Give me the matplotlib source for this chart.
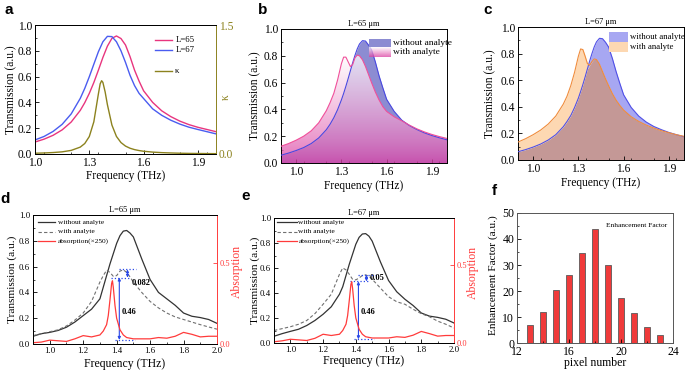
import numpy as np
import matplotlib
matplotlib.use('Agg')
import matplotlib.pyplot as plt
from matplotlib.ticker import MultipleLocator, FormatStrFormatter
from matplotlib.patches import Polygon, Rectangle

# ---------------- data ----------------
# panel a
a_freq = [1.0, 1.05, 1.1, 1.15, 1.2, 1.25, 1.275, 1.3, 1.325, 1.35, 1.375, 1.4, 1.425, 1.45,
          1.475, 1.5, 1.525, 1.55, 1.575, 1.6, 1.65, 1.7, 1.75, 1.8, 1.85, 1.9, 1.95, 2.0]
a_L65 = [0.093, 0.115, 0.145, 0.187, 0.248, 0.338, 0.398, 0.470, 0.554, 0.649, 0.748, 0.836, 0.897, 0.915,
         0.895, 0.845, 0.755, 0.65, 0.565, 0.49, 0.40, 0.335, 0.29, 0.255, 0.228, 0.207, 0.19, 0.173]
a_L67 = [0.109, 0.136, 0.175, 0.230, 0.311, 0.431, 0.509, 0.599, 0.696, 0.792, 0.870, 0.912, 0.91, 0.87,
         0.80, 0.71, 0.61, 0.53, 0.47, 0.43, 0.35, 0.30, 0.262, 0.232, 0.208, 0.19, 0.173, 0.156]
k_freq = [1.0, 1.05, 1.1, 1.15, 1.2, 1.25, 1.275, 1.3, 1.325, 1.35, 1.36, 1.368, 1.375, 1.3875, 1.4,
          1.425, 1.45, 1.475, 1.5, 1.525, 1.55, 1.575, 1.6, 1.65, 1.7, 1.75, 1.8, 1.85, 1.9, 1.95, 2.0]
kappa = [0.009, 0.012, 0.017, 0.025, 0.042, 0.080, 0.122, 0.203, 0.374, 0.696, 0.816, 0.852, 0.833, 0.722, 0.574,
         0.336, 0.204, 0.133, 0.092, 0.067, 0.051, 0.040, 0.032, 0.022, 0.016, 0.012, 0.009, 0.007, 0.006, 0.005, 0.004]

# panels b, c
bc_freq = [0.9, 0.95, 1.0, 1.05, 1.1, 1.15, 1.2, 1.225, 1.25, 1.275, 1.3, 1.315, 1.33, 1.345, 1.36, 1.375,
           1.39, 1.405, 1.42, 1.44, 1.46, 1.48, 1.5, 1.525, 1.55, 1.575, 1.6, 1.65, 1.7, 1.75, 1.8, 1.85,
           1.9, 1.95, 2.0]
b_without = [0.058, 0.074, 0.093, 0.115, 0.145, 0.187, 0.248, 0.289, 0.338, 0.398, 0.470, 0.519, 0.573, 0.630,
             0.689, 0.748, 0.803, 0.851, 0.888, 0.913, 0.91, 0.88, 0.845, 0.755, 0.65, 0.56, 0.475, 0.385,
             0.32, 0.28, 0.25, 0.225, 0.205, 0.188, 0.173]
b_with = [0.125, 0.145, 0.17, 0.20, 0.24, 0.30, 0.39, 0.45, 0.52, 0.62, 0.74, 0.79, 0.79, 0.755, 0.72, 0.735,
          0.785, 0.805, 0.80, 0.77, 0.72, 0.66, 0.60, 0.53, 0.47, 0.42, 0.385, 0.345, 0.315, 0.283, 0.255,
          0.232, 0.213, 0.197, 0.183]
c_without = [0.062, 0.078, 0.097, 0.12, 0.15, 0.19, 0.25, 0.29, 0.335, 0.395, 0.465, 0.515, 0.568, 0.625,
             0.685, 0.745, 0.80, 0.85, 0.888, 0.915, 0.912, 0.885, 0.85, 0.765, 0.665, 0.575, 0.49, 0.395,
             0.33, 0.285, 0.252, 0.228, 0.207, 0.19, 0.175]
c_with = [0.135, 0.16, 0.19, 0.225, 0.27, 0.33, 0.42, 0.48, 0.56, 0.66, 0.78, 0.835, 0.83, 0.78, 0.725, 0.712,
          0.74, 0.76, 0.755, 0.72, 0.665, 0.61, 0.56, 0.50, 0.45, 0.41, 0.375, 0.325, 0.29, 0.262, 0.24,
          0.22, 0.205, 0.19, 0.178]

# panels d, e
de_freq = [0.9, 0.95, 1.0, 1.05, 1.1, 1.15, 1.2, 1.25, 1.3, 1.32, 1.34, 1.36, 1.38, 1.40, 1.42, 1.44, 1.46,
           1.48, 1.5, 1.55, 1.6, 1.65, 1.7, 1.75, 1.8, 1.85, 1.9, 1.95, 2.0]
d_without = [0.06, 0.08, 0.09, 0.105, 0.13, 0.17, 0.22, 0.27, 0.35, 0.44, 0.53, 0.62, 0.70, 0.78, 0.84, 0.875,
             0.88, 0.86, 0.83, 0.66, 0.50, 0.40, 0.35, 0.30, 0.24, 0.215, 0.205, 0.19, 0.16]
d_with = [0.065, 0.08, 0.095, 0.11, 0.14, 0.185, 0.24, 0.33, 0.48, 0.53, 0.572, 0.555, 0.525, 0.53, 0.565,
          0.575, 0.555, 0.52, 0.48, 0.40, 0.33, 0.28, 0.24, 0.21, 0.19, 0.17, 0.15, 0.132, 0.115]
e_without = [0.054, 0.075, 0.093, 0.11, 0.14, 0.18, 0.23, 0.29, 0.39, 0.45, 0.54, 0.63, 0.71, 0.79, 0.845,
             0.872, 0.875, 0.855, 0.815, 0.65, 0.50, 0.41, 0.35, 0.30, 0.24, 0.215, 0.205, 0.19, 0.16]
e_with = [0.10, 0.115, 0.13, 0.15, 0.18, 0.235, 0.31, 0.39, 0.55, 0.60, 0.585, 0.55, 0.51, 0.505, 0.52, 0.54,
          0.545, 0.535, 0.51, 0.44, 0.37, 0.33, 0.31, 0.27, 0.235, 0.21, 0.175, 0.15, 0.12]
abs_freq = [0.9, 0.95, 1.0, 1.05, 1.1, 1.15, 1.2, 1.25, 1.3, 1.32, 1.34, 1.35, 1.36, 1.37, 1.375, 1.38, 1.39,
            1.40, 1.42, 1.44, 1.46, 1.5, 1.55, 1.6, 1.65, 1.7, 1.75, 1.8, 1.85, 1.9, 1.95, 2.0]
d_abs = [0.008, 0.012, 0.024, 0.02, 0.016, 0.032, 0.052, 0.044, 0.056, 0.08, 0.12, 0.176, 0.272, 0.376, 0.392,
         0.352, 0.24, 0.16, 0.088, 0.056, 0.04, 0.032, 0.032, 0.032, 0.04, 0.036, 0.048, 0.072, 0.06, 0.044,
         0.048, 0.048]
e_abs = [0.008, 0.014, 0.024, 0.02, 0.016, 0.03, 0.056, 0.048, 0.056, 0.08, 0.12, 0.176, 0.272, 0.376, 0.392,
         0.352, 0.24, 0.16, 0.088, 0.056, 0.04, 0.032, 0.032, 0.032, 0.04, 0.036, 0.05, 0.074, 0.06, 0.044,
         0.048, 0.048]
# annotation levels (transmission units): top, middle, bottom
d_levels = [0.578, 0.515, 0.032]
e_levels = [0.546, 0.493, 0.030]
d_labels = ['0.082', '0.46']
e_labels = ['0.05', '0.46']

# panel f
pixels = [13, 14, 15, 16, 17, 18, 19, 20, 21, 22, 23]
enh = [7, 12, 20.5, 26, 34.5, 44, 30, 17.5, 11.5, 6, 3]

# ---------------- style ----------------
plt.rcParams['font.family'] = ['Liberation Serif', 'DejaVu Serif']
plt.rcParams['xtick.direction'] = 'in'
plt.rcParams['ytick.direction'] = 'in'
plt.rcParams['xtick.major.size'] = 3
plt.rcParams['ytick.major.size'] = 3
plt.rcParams['xtick.minor.size'] = 1.6
plt.rcParams['ytick.minor.size'] = 1.6
plt.rcParams['xtick.major.width'] = 0.6
plt.rcParams['ytick.major.width'] = 0.6
plt.rcParams['xtick.minor.width'] = 0.5
plt.rcParams['ytick.minor.width'] = 0.5
plt.rcParams['axes.linewidth'] = 0.7
plt.rcParams['xtick.major.pad'] = 2
plt.rcParams['ytick.major.pad'] = 2

W, H = 685, 370
fig = plt.figure(figsize=(W / 100, H / 100), dpi=100)


def add_ax(x0, y0, x1, y1):
    return fig.add_axes([x0 / W, 1 - y1 / H, (x1 - x0) / W, (y1 - y0) / H])


def letter(x, y, s):
    fig.text(x / W, 1 - y / H, s, fontsize=11, fontweight='bold', family='Liberation Sans',
             ha='center', va='center')


def style_axes(ax, fs, xmaj, xmin, ymaj=0.2, ymin=0.1):
    ax.xaxis.set_major_locator(MultipleLocator(xmaj))
    ax.xaxis.set_minor_locator(MultipleLocator(xmin))
    ax.yaxis.set_major_locator(MultipleLocator(ymaj))
    ax.yaxis.set_minor_locator(MultipleLocator(ymin))
    ax.xaxis.set_major_formatter(FormatStrFormatter('%.1f'))
    ax.yaxis.set_major_formatter(FormatStrFormatter('%.1f'))
    ax.tick_params(labelsize=fs)


OLIVE = '#8c821e'
RED = '#ff3b3b'
ABLUE = '#2a48e8'

# ---------------- panel a ----------------
ax = add_ax(35, 25, 216, 154)
ax.plot(a_freq, a_L65, color='#e8357e', lw=1.0)
ax.plot(a_freq, a_L67, color='#4a5cf0', lw=1.0)
ax.set_xlim(1.0, 2.0)
ax.set_ylim(0, 1.0)
style_axes(ax, 8.3, 0.3, 0.15)
ax.set_xticks([1.0, 1.3, 1.6, 1.9])
ax.set_ylabel('Transmission (a.u.)', fontsize=8.3)
ax.set_xlabel('Frequency (THz)', fontsize=8.3)
ax.yaxis.set_label_coords(-0.097, 0.5)
ax.xaxis.set_label_coords(0.5, -0.125)
ax.spines['right'].set_visible(False)
ax2 = ax.twinx()
ax2.plot(k_freq, kappa, color=OLIVE, lw=1.0)
ax2.set_ylim(0, 1.5)
ax2.set_yticks([0, 1.5])
ax2.yaxis.set_major_formatter(FormatStrFormatter('%.1f'))
ax2.tick_params(labelsize=8.3, colors=OLIVE)
ax2.spines['right'].set_color(OLIVE)
ax2.set_ylabel('κ', fontsize=8.3, color=OLIVE)
ax2.yaxis.set_label_coords(1.02, 0.44)
for yy, col, lab in [(0.884, '#e8357e', 'L=65'), (0.81, '#4a5cf0', 'L=67'), (0.643, OLIVE, 'κ')]:
    ax.plot([0.663, 0.757], [yy, yy], color=col, lw=1.0, transform=ax.transAxes)
    ax.text(0.775, yy, lab, fontsize=6.3, va='center', ha='left', transform=ax.transAxes)
letter(9, 10, 'a')

# ---------------- panel b ----------------
ax = add_ax(281, 29, 447, 163)
BFILL = '#8c8cd2'
ax.fill_between(bc_freq, 0, b_without, color=BFILL, lw=0, zorder=1)
ny = 256
yy = np.linspace(0, 1, ny)
t = np.clip(yy / 0.8, 0, 1) ** 0.8
bottom = np.array([0.86, 0.24, 0.63])
grad = np.zeros((ny, 2, 4))
grad[..., :3] = (bottom + (1 - bottom) * t[:, None])[:, None, :]
grad[..., 3] = 0.75
im = ax.imshow(grad, extent=(0.9, 2.0, 0, 1), origin='lower', aspect='auto', zorder=2,
               interpolation='bilinear')
xs = np.array(bc_freq)
poly = Polygon(np.column_stack([np.r_[xs, xs[::-1]], np.r_[np.array(b_with), np.zeros(len(xs))]]),
               closed=True, transform=ax.transData, fc='none', ec='none')
ax.add_patch(poly)
im.set_clip_path(poly)
ax.plot(bc_freq, b_without, color='#4848e0', lw=0.8, zorder=3)
ax.plot(bc_freq, b_with, color='#f0509a', lw=0.8, zorder=3)
# legend
ax.add_patch(Rectangle((0.53, 0.868), 0.13, 0.055, transform=ax.transAxes, fc=BFILL, ec='none', zorder=5))
lg = np.zeros((64, 2, 4))
tl = np.linspace(0, 1, 64)
lg[..., :3] = (bottom + (1 - bottom) * tl[:, None])[:, None, :]
lg[..., 3] = 0.75
ax.imshow(lg, extent=(0.53, 0.66, 0.79, 0.864), transform=ax.transAxes, origin='lower', aspect='auto',
          zorder=5, interpolation='bilinear')
ax.text(0.675, 0.895, 'without analyte', fontsize=6.8, va='center', transform=ax.transAxes)
ax.text(0.675, 0.827, 'with analyte', fontsize=6.8, va='center', transform=ax.transAxes)
ax.set_xlim(0.9, 2.0)
ax.set_ylim(0, 1.0)
style_axes(ax, 8.3, 0.3, 0.15)
ax.set_xticks([1.0, 1.3, 1.6, 1.9])
ax.set_title('L=65 μm', fontsize=6, pad=2)
ax.set_ylabel('Transmission (a.u.)', fontsize=8.3)
ax.set_xlabel('Frequency (THz)', fontsize=8.3)
ax.yaxis.set_label_coords(-0.117, 0.5)
ax.xaxis.set_label_coords(0.5, -0.127)
letter(263, 10, 'b')

# ---------------- panel c ----------------
ax = add_ax(518, 27, 684, 160)
C_BLUE = '#a7a7f2'
C_PEACH = '#fdd8b2'
C_OVER = '#c49896'
lower = np.minimum(np.array(c_with), np.array(c_without))
ax.fill_between(bc_freq, 0, lower, color=C_OVER, lw=0, zorder=1)
ax.fill_between(bc_freq, lower, c_with, color=C_PEACH, lw=0, zorder=1)
ax.fill_between(bc_freq, lower, c_without, color=C_BLUE, lw=0, zorder=1)
ax.plot(bc_freq, c_without, color='#5050e6', lw=0.8, zorder=3)
ax.plot(bc_freq, c_with, color='#f08c3c', lw=0.8, zorder=3)
ax.add_patch(Rectangle((0.548, 0.89), 0.113, 0.075, transform=ax.transAxes,
                       fc=C_BLUE, ec='none', zorder=5))
ax.add_patch(Rectangle((0.548, 0.815), 0.113, 0.075, transform=ax.transAxes,
                       fc=C_PEACH, ec='none', zorder=5))
ax.text(0.675, 0.927, 'without analyte', fontsize=6.3, va='center', transform=ax.transAxes)
ax.text(0.675, 0.852, 'with analyte', fontsize=6.3, va='center', transform=ax.transAxes)
ax.set_xlim(0.9, 2.0)
ax.set_ylim(0, 1.0)
style_axes(ax, 8.3, 0.3, 0.15)
ax.set_xticks([1.0, 1.3, 1.6, 1.9])
ax.set_title('L=67 μm', fontsize=6, pad=2)
ax.set_ylabel('Transmission (a.u.)', fontsize=8.3)
ax.set_xlabel('Frequency (THz)', fontsize=8.3)
ax.yaxis.set_label_coords(-0.129, 0.5)
ax.xaxis.set_label_coords(0.5, -0.128)
letter(488, 10, 'c')


# ---------------- panels d, e ----------------
def panel_de(box, without, with_, absorb, levels, labels, lab_y, title, ylab_x, xlab_y, rlab, leg):
    ax = add_ax(*box)
    ax.plot(de_freq, without, color='#333333', lw=0.9, zorder=3)
    ax.plot(de_freq, with_, color='#707070', lw=0.8, ls=(0, (3, 2)), zorder=3)
    ax.set_xlim(0.9, 2.0)
    ax.set_ylim(0, 1.0)
    style_axes(ax, 6.3, 0.2, 0.1)
    ax.set_title(title, fontsize=6, pad=2)
    ax.set_ylabel('Transmission (a.u.)', fontsize=8.2)
    ax.set_xlabel('Frequency (THz)', fontsize=8.5)
    ax.yaxis.set_label_coords(ylab_x, 0.5)
    ax.xaxis.set_label_coords(0.5, xlab_y)
    ax.spines['right'].set_visible(False)
    ax2 = ax.twinx()
    ax2.plot(abs_freq, absorb, color=RED, lw=0.9)
    ax2.set_ylim(0, 0.8)
    ax2.set_yticks([0, 0.5])
    ax2.yaxis.set_major_formatter(FormatStrFormatter('%.1f'))
    ax2.tick_params(labelsize=6, colors=RED)
    ax2.spines['right'].set_color(RED)
    ax2.set_ylabel('Absorption', fontsize=8.5, color=RED)
    ax2.yaxis.set_label_coords(rlab[0], rlab[1])
    # annotations
    top, mid, bot = levels
    ax.plot([1.415, 1.515], [top, top], ls=':', color=ABLUE, lw=0.9, zorder=4)
    ax.plot([1.365, 1.475], [mid, mid], ls=':', color=ABLUE, lw=0.9, zorder=4)
    ax.plot([1.39, 1.51], [bot, bot], ls=':', color=ABLUE, lw=0.9, zorder=4)
    ax.annotate('', xy=(1.465, top), xytext=(1.465, mid),
                arrowprops=dict(arrowstyle='<|-|>', color=ABLUE, lw=0.7, mutation_scale=4,
                                shrinkA=0, shrinkB=0))
    ax.annotate('', xy=(1.416, mid), xytext=(1.416, bot),
                arrowprops=dict(arrowstyle='<|-|>', color=ABLUE, lw=0.8, mutation_scale=4,
                                shrinkA=0, shrinkB=0))
    ax.text(1.487, lab_y, labels[0], fontsize=6, fontweight='bold', va='center')
    ax.text(1.43, 0.245, labels[1], fontsize=6, fontweight='bold', va='center')
    # legend
    lx0, lx1, tx, ys = leg
    ax.plot([lx0, lx1], [ys[0], ys[0]], color='#333333', lw=0.9, transform=ax.transAxes)
    ax.plot([lx0, lx1], [ys[1], ys[1]], color='#707070', lw=0.8, ls=(0, (3, 2)), transform=ax.transAxes)
    ax.plot([lx0, lx1], [ys[2], ys[2]], color=RED, lw=0.9, transform=ax.transAxes)
    for yv, s in zip(ys, ['without analyte', 'with analyte', 'absorption(×250)']):
        ax.text(tx, yv, s, fontsize=5.3, va='center', transform=ax.transAxes)
    return ax


panel_de((33, 215, 217, 344), d_without, d_with, d_abs, d_levels, d_labels, 0.47, 'L=65 μm',
         -0.088, -0.109, (1.075, 0.56), (0.027, 0.12, 0.135, [0.943, 0.871, 0.799]))
letter(5, 199, 'd')
panel_de((274, 218, 454, 343), e_without, e_with, e_abs, e_levels, e_labels, 0.52, 'L=67 μm',
         -0.078, -0.096, (1.072, 0.564), (0.015, 0.126, 0.135, [0.966, 0.89, 0.818]))
letter(246, 196, 'e')

# ---------------- panel f ----------------
ax = add_ax(517, 213, 673, 343)
ax.bar(pixels, enh, width=0.42, color='#f03a3a', edgecolor='#5a5a5a', lw=0.6)
ax.set_xlim(12, 24)
ax.set_ylim(0, 50)
ax.xaxis.set_major_locator(MultipleLocator(4))
ax.xaxis.set_minor_locator(MultipleLocator(2))
ax.yaxis.set_major_locator(MultipleLocator(10))
ax.yaxis.set_minor_locator(MultipleLocator(5))
ax.tick_params(labelsize=8.5)
ax.set_ylabel('Enhancement Factor (a.u.)', fontsize=8.1)
ax.set_xlabel('pixel number', fontsize=8.5)
ax.yaxis.set_label_coords(-0.125, 0.52)
ax.xaxis.set_label_coords(0.5, -0.108)
ax.text(0.96, 0.9, 'Enhancement Factor', fontsize=5.3, ha='right', va='center', transform=ax.transAxes)
for s in ax.spines.values():
    s.set_color('#555555')
letter(494, 191, 'f')

fig.savefig('out.png', dpi=100)
